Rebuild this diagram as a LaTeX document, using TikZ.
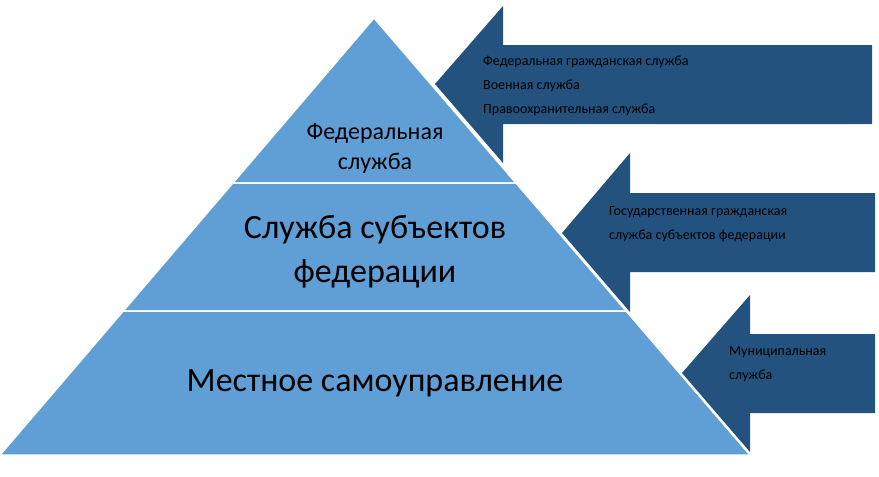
\documentclass[tikz,border=0pt]{standalone}
\usepackage{fontspec}
\setmainfont{Carlito}
\usetikzlibrary{positioning, calc}
\definecolor{layerblue}{HTML}{5F9FD6}
\definecolor{arrowblue}{HTML}{24527F}
\tikzset{arrowshape/.style={fill=arrowblue, draw=none},
  layer/.style={fill=layerblue, draw=white, line width=1.5pt},
  small/.style={font=\fontsize{14}{24}\selectfont, align=left, anchor=west, inner sep=0pt}}
\begin{document}
% x = y = 1px of the reference
\begin{tikzpicture}[x=1pt, y=-1pt]
\useasboundingbox (0,0) rectangle (879,477);
% arrows
\fill[arrowshape] (435,84) -- (503,6) -- (503,45) -- (872,45) -- (872,124) -- (503,124) -- (503,163) -- cycle;
\fill[arrowshape] (562,233) -- (630,153) -- (630,193) -- (875,193) -- (875,272) -- (630,272) -- (630,312) -- cycle;
\fill[arrowshape] (682,373) -- (750,295) -- (750,334) -- (875,334) -- (875,413) -- (750,413) -- (750,452) -- cycle;
% pyramid
\coordinate (apex) at (374,18);
\coordinate (bl) at (0,455);
\coordinate (br) at (750,455);
\draw[layer] (apex) -- ($(apex)!0.3776!(bl)$) coordinate (l1) -- ($(apex)!0.3776!(br)$) coordinate (r1) -- cycle;
\draw[layer] (l1) -- ($(apex)!0.6705!(bl)$) coordinate (l2) -- ($(apex)!0.6705!(br)$) coordinate (r2) -- (r1) -- cycle;
\draw[layer] (l2) -- (bl) -- (br) -- (r2) -- cycle;
\node[align=center, font=\fontsize{24}{30}\selectfont] (fed) at (375,148) {Федеральная\\служба};
\node[align=center, font=\fontsize{34}{44}\selectfont] (subj) at (375,252) {Служба субъектов\\федерации};
\node[font=\fontsize{34}{44}\selectfont] (local) at (375,383) {Местное самоуправление};
% arrow texts
\node[small] (t1) at (483,86) {Федеральная гражданская служба\\Военная служба\\Правоохранительная служба};
\node[small] (t2) at (609,224) {Государственная гражданская\\служба субъектов федерации};
\node[small] (t3) at (729,364) {Муниципальная\\служба};
\end{tikzpicture}
\end{document}
